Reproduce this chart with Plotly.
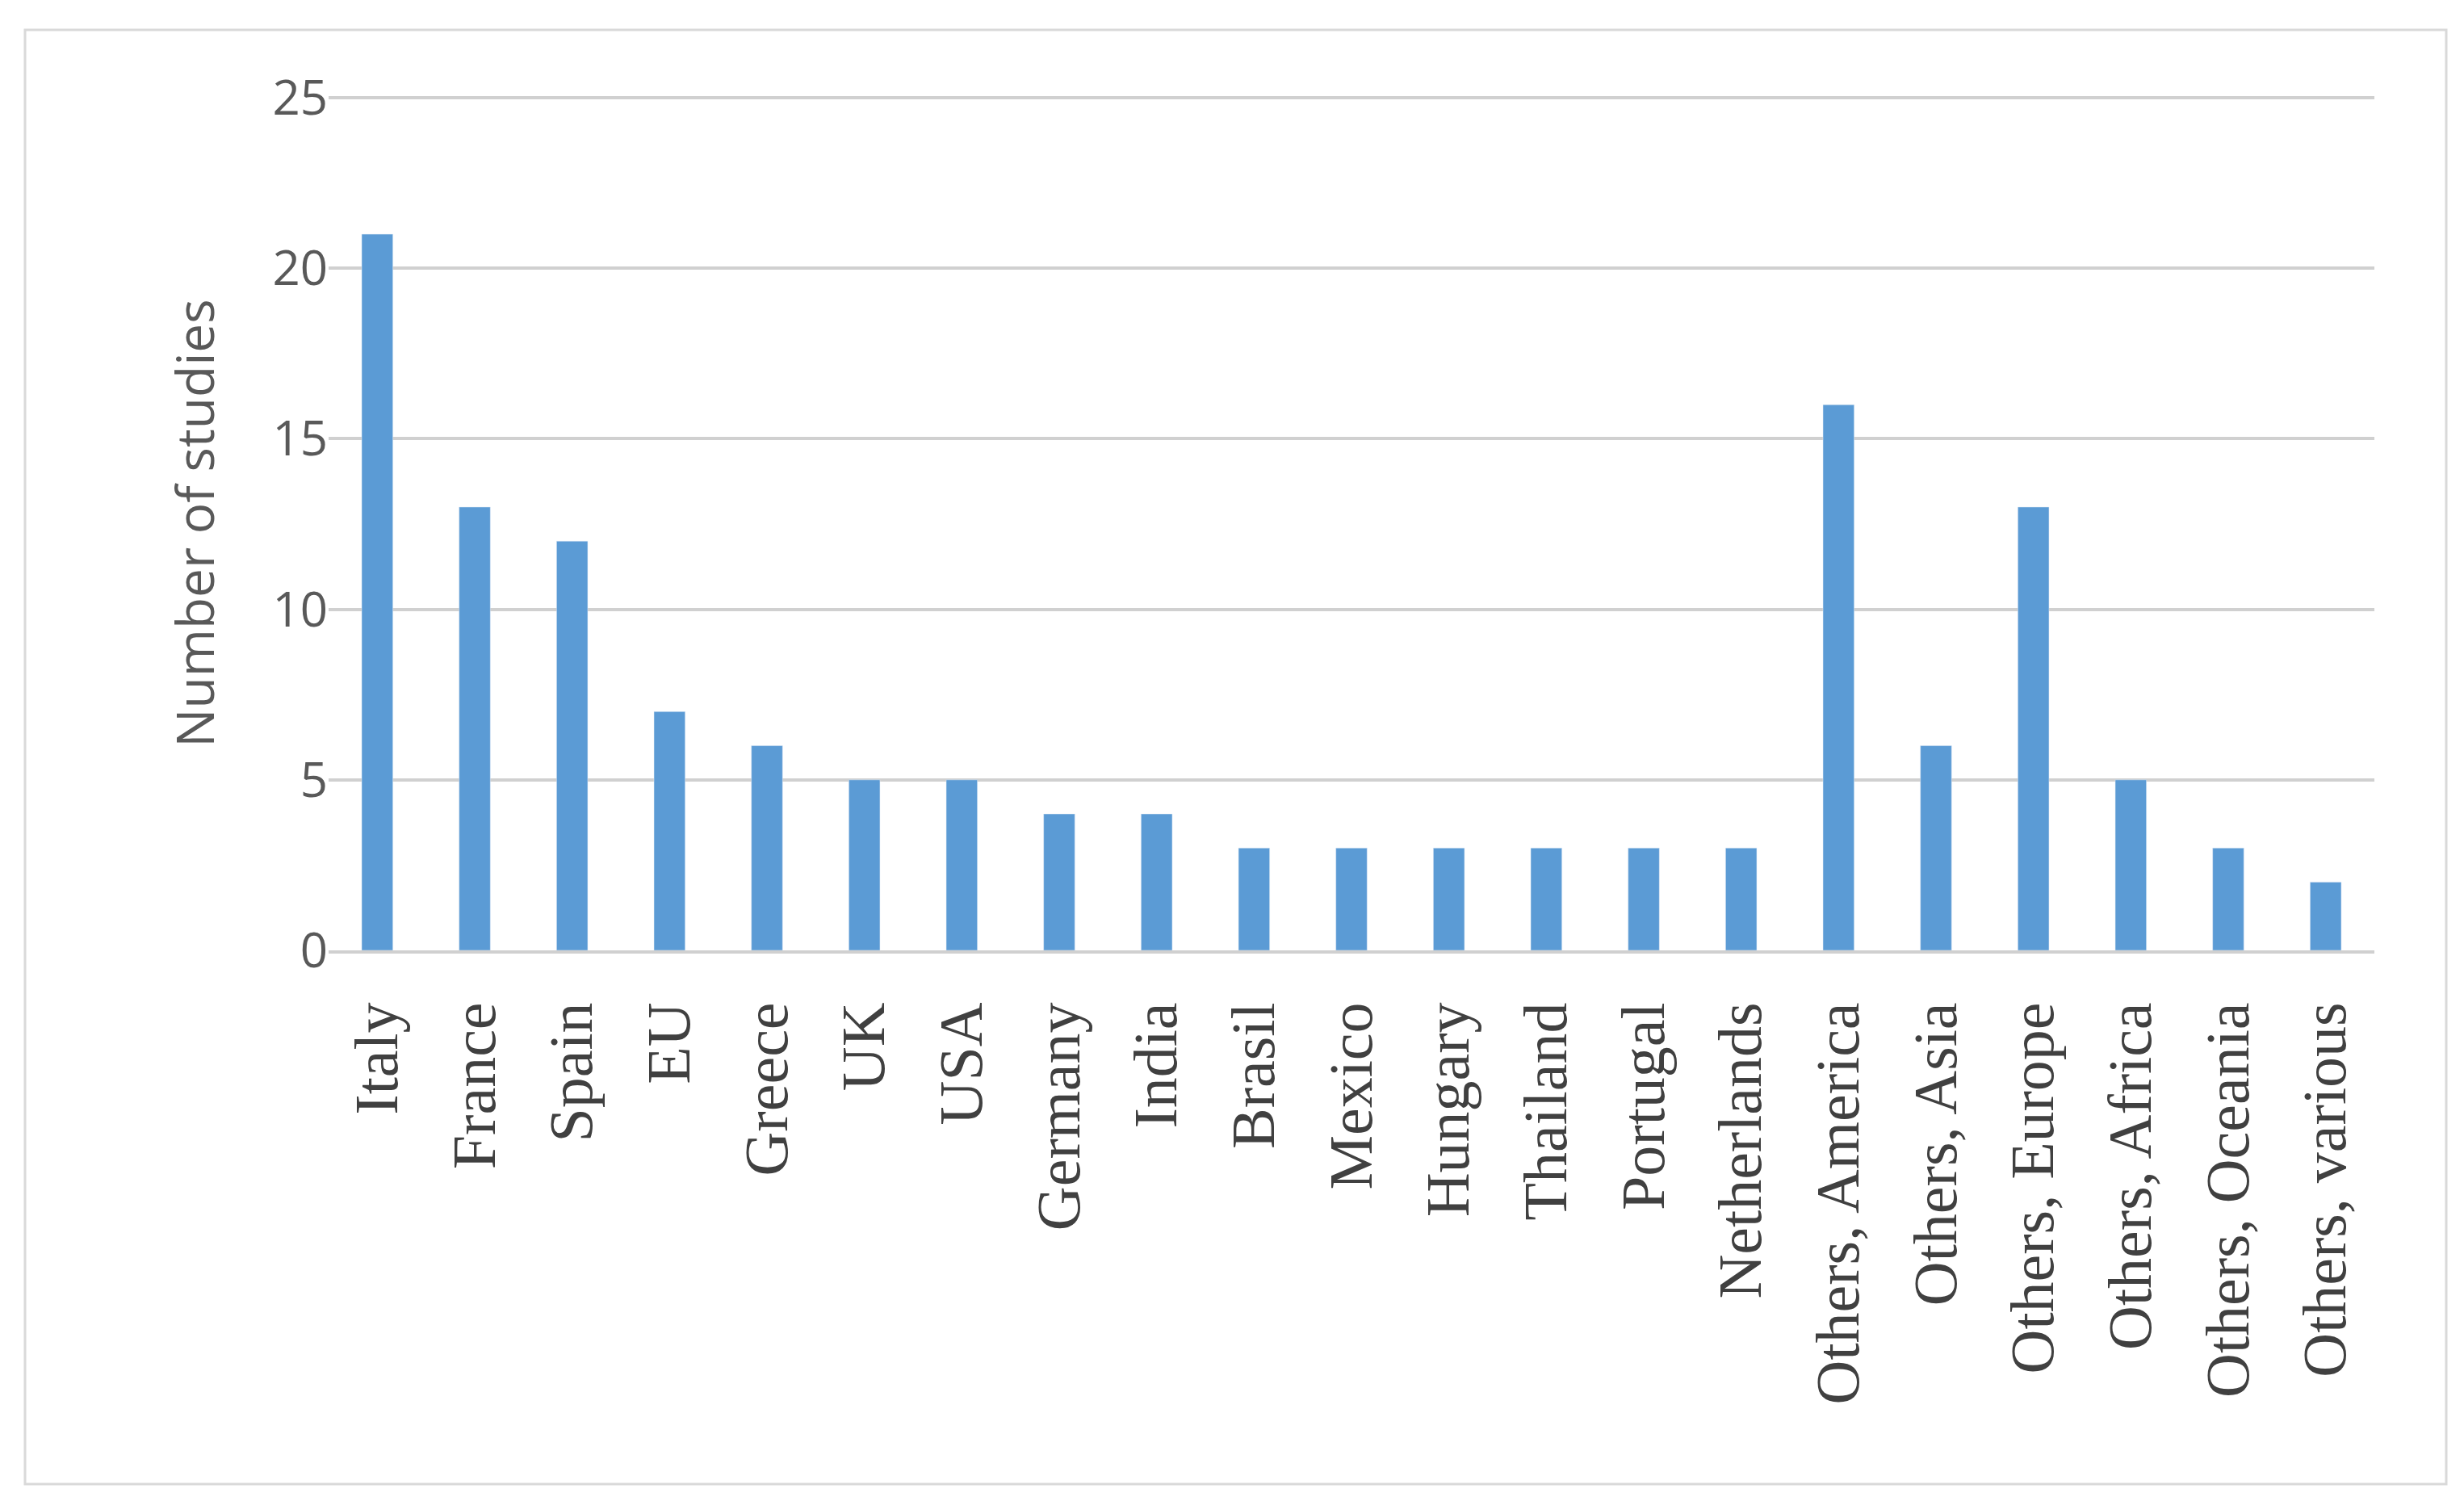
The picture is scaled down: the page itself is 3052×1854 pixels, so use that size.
import plotly.graph_objects as go

categories = ["Italy","France","Spain","EU","Greece","UK","USA","Germany","India","Brasil","Mexico","Hungary","Thailand","Portugal","Netherlands","Others, America","Others, Asia","Others, Europe","Others, Africa","Others, Oceania","Others, various"]
studies = [21,13,12,7,6,5,5,4,4,3,3,3,3,3,3,16,6,13,5,3,2]

W, H = 3052, 1854
L, R, T, B = 399, 119, 111, 685
pw, ph = W - L - R, H - T - B

def px(x): return (x - L) / pw
def py(y): return (H - B - y) / ph

fig = go.Figure(go.Bar(x=categories, y=studies, marker_color="#5B9BD5", width=0.32))
fig.update_layout(
    width=W, height=H, margin=dict(l=L, r=R, t=T, b=B),
    paper_bgcolor="white", plot_bgcolor="white", showlegend=False,
    xaxis=dict(tickangle=-90, tickfont=dict(family="Liberation Serif", size=76, color="#404040"),
               showline=True, linecolor="#d0d0d0", linewidth=4, ticks="outside", ticklen=30, tickcolor="white"),
    yaxis=dict(range=[0, 25.05], tickvals=[0,5,10,15,20,25], tickfont=dict(family="Open Sans", size=60, color="#595959"),
               gridcolor="#d0d0d0", gridwidth=4, zeroline=False, ticksuffix="      ",
               title=dict(text="Number of studies", font=dict(family="Open Sans", size=64, color="#595959"), standoff=50)),
    shapes=[dict(type="rect", xref="paper", yref="paper", x0=px(23), x1=px(3022), y0=py(1830), y1=py(29),
                 line=dict(color="#d9d9d9", width=3))],
)
fig.write_html("out.html")
